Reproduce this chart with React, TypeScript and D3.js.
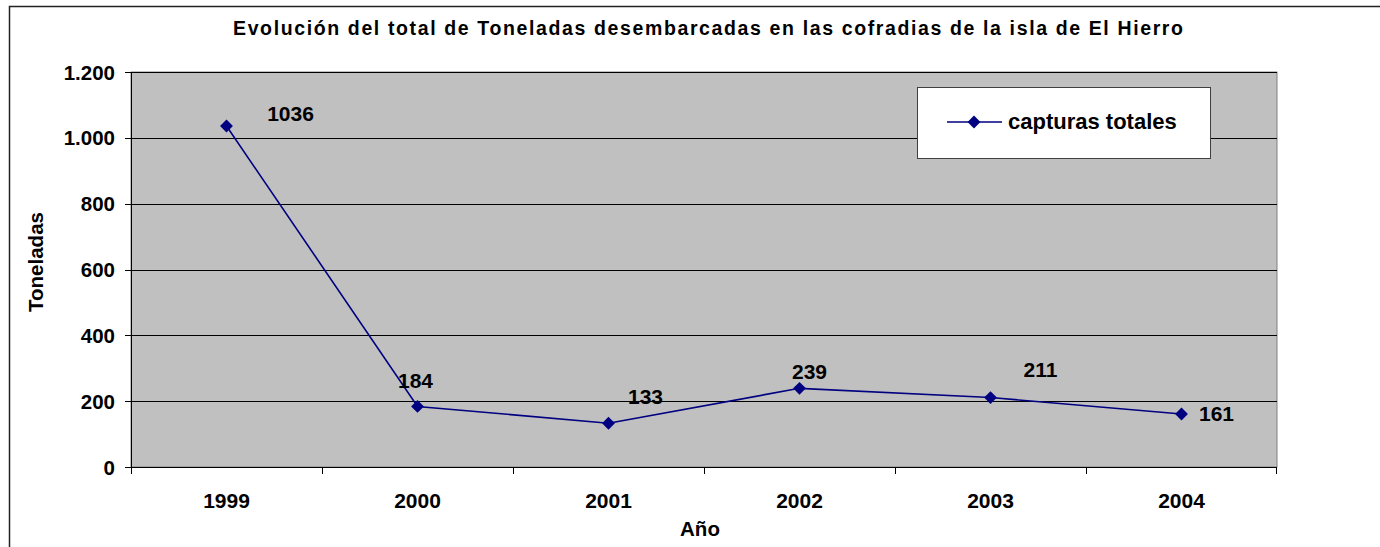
import React from "react";
import * as d3 from "d3";

const years = ["1999", "2000", "2001", "2002", "2003", "2004"];
const capturas = [1036, 184, 133, 239, 211, 161];
const yTicks = [0, 200, 400, 600, 800, 1000, 1200];
// manual label offsets (dx, dy) relative to marker, as placed in the source
const labelOffsets: [number, number][] = [
  [64, -5],
  [-2, -18],
  [37, -19],
  [10, -9],
  [50, -21],
  [35, 7],
];

const W = 1380;
const H = 547;
const margin = { left: 131, top: 72, right: 1277, bottom: 467 };
const FONT = "Arial, 'Liberation Sans', sans-serif";

export default function App() {
  const x = d3.scaleBand<string>().domain(years).range([margin.left, margin.right]);
  const y = d3.scaleLinear().domain([0, 1200]).range([margin.bottom, margin.top]);
  const fmt = (v: number) => d3.format(",")(v).replace(/,/g, ".");
  const line = d3
    .line<number>()
    .x((_, i) => (x(years[i]) as number) + x.bandwidth() / 2)
    .y((d) => y(d));
  const diamond = d3.symbol().type(d3.symbolDiamond2).size(105)() as string;
  const plotW = margin.right - margin.left;
  const plotH = margin.bottom - margin.top;

  return (
    <svg
      width={W}
      height={H}
      style={{ position: "absolute", left: 0, top: 0, display: "block" }}
      fontFamily={FONT}
      fontWeight="bold"
    >
      <rect x={0} y={0} width={W} height={H} fill="#fff" />
      <rect x={9.5} y={6.5} width={W} height={H} fill="none" stroke="#222" strokeWidth={1.5} />
      <text x={708} y={35} textAnchor="middle" fontSize={19.5} textLength={950} lengthAdjust="spacing">
        Evolución del total de Toneladas desembarcadas en las cofradias de la isla de El Hierro
      </text>

      <rect x={margin.left} y={margin.top} width={plotW} height={plotH} fill="#c0c0c0" stroke="#808080" strokeWidth={1} />
      {yTicks.slice(1).map((t) => (
        <line key={t} x1={margin.left} x2={margin.right} y1={Math.round(y(t)) + 0.5} y2={Math.round(y(t)) + 0.5} stroke="#000" strokeWidth={1} />
      ))}
      {/* axes */}
      <line x1={margin.left + 0.5} x2={margin.left + 0.5} y1={margin.top} y2={margin.bottom} stroke="#000" />
      <line x1={margin.left} x2={margin.right} y1={margin.bottom + 0.5} y2={margin.bottom + 0.5} stroke="#000" />
      {yTicks.map((t) => (
        <g key={t}>
          <line x1={margin.left - 6} x2={margin.left} y1={Math.round(y(t)) + 0.5} y2={Math.round(y(t)) + 0.5} stroke="#000" />
          <text x={115} y={y(t) + 7.5} textAnchor="end" fontSize={20.5}>
            {fmt(t)}
          </text>
        </g>
      ))}
      {years.map((yr) => (
        <line key={"t" + yr} x1={Math.round(x(yr) as number) + 0.5} x2={Math.round(x(yr) as number) + 0.5} y1={margin.bottom} y2={margin.bottom + 7} stroke="#000" />
      ))}
      <line x1={margin.right - 0.5} x2={margin.right - 0.5} y1={margin.bottom} y2={margin.bottom + 7} stroke="#000" />
      {years.map((yr) => (
        <text key={"l" + yr} x={(x(yr) as number) + x.bandwidth() / 2} y={508} textAnchor="middle" fontSize={21}>
          {yr}
        </text>
      ))}
      <text x={700} y={536} textAnchor="middle" fontSize={20.5}>Año</text>
      <text transform="translate(43,262) rotate(-90)" textAnchor="middle" fontSize={20.5}>Toneladas</text>

      <path d={line(capturas) as string} fill="none" stroke="#000080" strokeWidth={1.6} />
      {capturas.map((v, i) => {
        const cx = (x(years[i]) as number) + x.bandwidth() / 2;
        const cy = y(v);
        return (
          <g key={"m" + i}>
            <path d={diamond} transform={`translate(${cx},${cy})`} fill="#000080" />
            <text x={cx + labelOffsets[i][0]} y={cy + labelOffsets[i][1]} textAnchor="middle" fontSize={21}>
              {v}
            </text>
          </g>
        );
      })}

      <rect x={917.5} y={87.5} width={293} height={71} fill="#fff" stroke="#404040" strokeWidth={1} />
      <line x1={947} x2={1002} y1={122} y2={122} stroke="#000080" strokeWidth={1.6} />
      <path d={diamond} transform="translate(974,122)" fill="#000080" />
      <text x={1008} y={129} fontSize={22}>capturas totales</text>
    </svg>
  );
}
